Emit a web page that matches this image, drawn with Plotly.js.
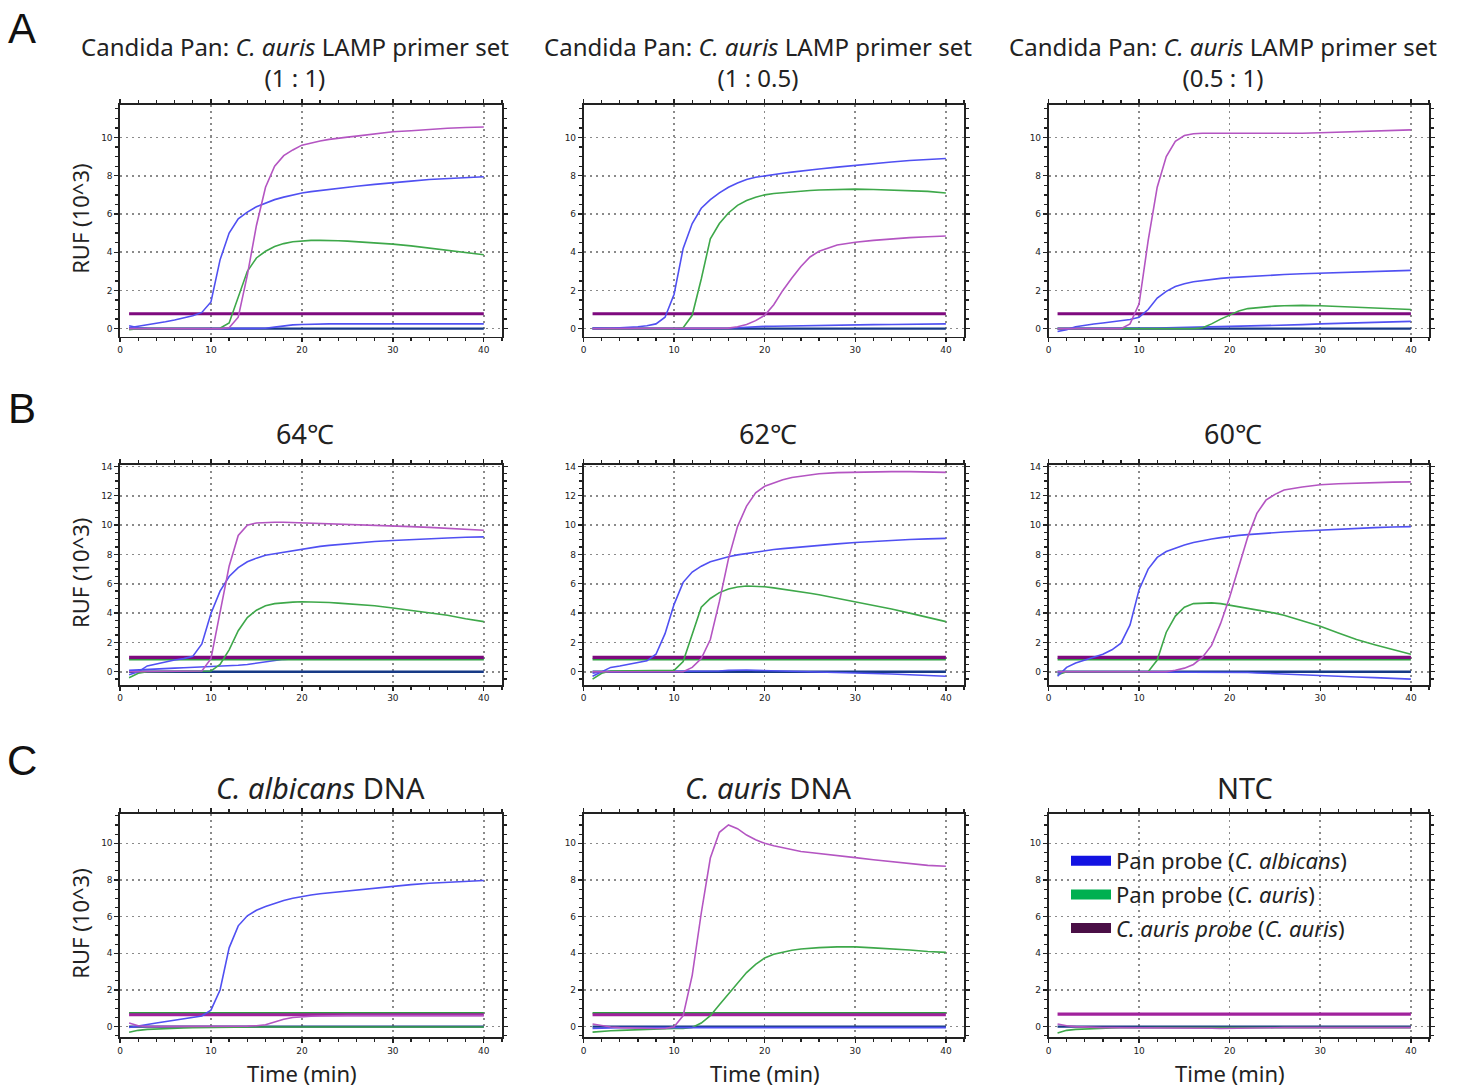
<!DOCTYPE html>
<html><head><meta charset="utf-8">
<script src="https://cdn.plot.ly/plotly-3.0.1.min.js"></script>
<style>html,body{margin:0;padding:0;background:#fff}#chart{width:1466px;height:1088px}</style>
</head><body><div id="chart"></div>
<script>
// ---- time axis (minutes) ----
const minutes = [1,2,3,4,5,6,7,8,9,10,11,12,13,14,15,16,17,18,19,20,21,22,23,24,25,26,28,30,32,34,36,38,40];
const timeTicks = [0,10,20,30,40];

// ---- Panel A: primer-set ratios ----
const a1Albicans = [0.05,0.12,0.2,0.28,0.36,0.45,0.55,0.68,0.85,1.4,3.6,5.0,5.75,6.1,6.38,6.58,6.75,6.88,7.0,7.1,7.17,7.23,7.3,7.35,7.4,7.45,7.55,7.65,7.72,7.8,7.85,7.9,7.95];
const a1PanAuris  = [-0.05,0,0,0,0,0,0,0,0,0,0.02,0.3,1.6,3.0,3.7,4.05,4.3,4.45,4.55,4.6,4.62,4.62,4.62,4.6,4.58,4.55,4.5,4.42,4.33,4.22,4.1,4.0,3.87];
const a1AurisProbe= [0,0,0,0,0,0,0,0,0,0,0,0.05,0.6,2.8,5.4,7.4,8.5,9.05,9.35,9.6,9.72,9.82,9.9,9.97,10.02,10.07,10.2,10.3,10.35,10.42,10.48,10.52,10.55];
const a1Negative  = [0.15,0.05,0.02,0,0,0,0,0,0,0,0,0,0,0,0,0.02,0.08,0.15,0.2,0.22,0.24,0.25,0.25,0.25,0.25,0.25,0.25,0.25,0.25,0.25,0.25,0.25,0.25];

const a2Albicans = [0,0,0.02,0.04,0.06,0.1,0.15,0.25,0.6,1.8,4.2,5.5,6.3,6.75,7.1,7.4,7.62,7.8,7.92,8.0,8.07,8.13,8.19,8.25,8.3,8.35,8.45,8.55,8.63,8.72,8.8,8.86,8.9];
const a2PanAuris  = [0,0,0,0,0,0,0,0,0,0,0.05,0.7,2.6,4.7,5.5,6.05,6.45,6.7,6.88,7.0,7.07,7.12,7.16,7.2,7.23,7.25,7.28,7.3,7.28,7.25,7.22,7.18,7.1];
const a2AurisProbe= [0,0,0,0,0,0,0,0,0,0,0,0,0,0,0,0.03,0.1,0.22,0.42,0.7,1.25,2.0,2.65,3.25,3.75,4.05,4.38,4.52,4.62,4.7,4.76,4.81,4.85];
const a2Negative  = [0.05,0.03,0.02,0,0,0,0,0,0,0,0,0,0,0,0,0.02,0.05,0.08,0.1,0.12,0.13,0.14,0.15,0.16,0.17,0.18,0.19,0.2,0.21,0.22,0.23,0.24,0.25];

const a3Albicans = [-0.15,-0.05,0.1,0.18,0.24,0.3,0.35,0.4,0.48,0.6,1.0,1.6,1.95,2.2,2.35,2.45,2.52,2.58,2.63,2.67,2.7,2.73,2.76,2.79,2.81,2.83,2.87,2.9,2.93,2.96,3.0,3.02,3.05];
const a3PanAuris  = [0,0,0,0,0,0,0,0,0,0,0,0,0,0,0,0,0.05,0.25,0.5,0.72,0.92,1.05,1.1,1.15,1.18,1.2,1.22,1.2,1.16,1.12,1.08,1.04,1.0];
const a3AurisProbe= [0,0,0,0,0,0,0,0,0.25,1.3,4.6,7.4,9.0,9.8,10.1,10.2,10.22,10.22,10.2,10.2,10.2,10.2,10.2,10.2,10.2,10.2,10.22,10.25,10.28,10.3,10.35,10.38,10.4];
const a3Negative  = [0,0,0,0,0,0,0,0,0,0,0.02,0.03,0.04,0.05,0.05,0.05,0.06,0.07,0.08,0.1,0.11,0.12,0.13,0.15,0.16,0.18,0.21,0.25,0.28,0.31,0.34,0.37,0.38];

// ---- Panel B: temperatures ----
const b1Albicans = [-0.2,0.0,0.4,0.55,0.65,0.8,0.9,1.05,1.9,3.98,5.5,6.5,7.1,7.5,7.75,7.95,8.05,8.15,8.28,8.4,8.47,8.55,8.62,8.68,8.73,8.78,8.88,8.95,9.02,9.08,9.12,9.17,9.2];
const b1PanAuris  = [-0.4,-0.1,0,0,0,0,0,0,0,0.05,0.5,1.5,2.8,3.7,4.2,4.5,4.65,4.72,4.75,4.78,4.77,4.75,4.72,4.68,4.64,4.6,4.5,4.35,4.2,4.02,3.85,3.62,3.42];
const b1AurisProbe= [0,0,0,0,0,0,0,0,0.05,0.9,4.0,7.2,9.3,10.0,10.15,10.2,10.2,10.2,10.18,10.15,10.14,10.12,10.11,10.1,10.08,10.05,10.0,9.95,9.9,9.85,9.8,9.72,9.65];
const b1Negative  = [0.1,0.12,0.15,0.18,0.2,0.25,0.28,0.3,0.32,0.35,0.38,0.4,0.45,0.5,0.6,0.7,0.78,0.85,0.88,0.9,0.9,0.9,0.9,0.9,0.9,0.9,0.9,0.9,0.9,0.9,0.9,0.9,0.9];

const b2Albicans = [-0.3,0.0,0.3,0.4,0.5,0.6,0.75,1.2,2.6,4.6,6.1,6.8,7.2,7.5,7.7,7.85,7.97,8.07,8.17,8.28,8.34,8.4,8.46,8.52,8.57,8.62,8.72,8.82,8.9,8.96,9.02,9.06,9.1];
const b2PanAuris  = [-0.5,-0.1,0.05,0.05,0.05,0.05,0.05,0.05,0.05,0.1,0.7,2.6,4.4,5.0,5.4,5.65,5.78,5.85,5.83,5.8,5.72,5.64,5.55,5.45,5.35,5.25,5.02,4.78,4.55,4.28,4.0,3.72,3.42];
const b2AurisProbe= [0,0,0,0,0,0,0,0,0,0,0,0.3,0.9,2.2,4.8,7.7,9.9,11.3,12.2,12.65,12.9,13.1,13.25,13.35,13.45,13.5,13.58,13.62,13.64,13.65,13.65,13.63,13.6];
const b2Negative  = [-0.1,0,0,0,0,0,0,0,0,0,0,0,0,0,0.05,0.1,0.12,0.12,0.1,0.08,0.06,0.05,0.03,0.02,0,-0.02,-0.05,-0.08,-0.12,-0.15,-0.2,-0.25,-0.3];

const b3Albicans = [-0.3,0.3,0.6,0.8,1.0,1.2,1.5,1.95,3.2,5.6,7.0,7.8,8.2,8.45,8.65,8.82,8.95,9.05,9.15,9.25,9.3,9.35,9.4,9.45,9.5,9.53,9.6,9.67,9.73,9.78,9.83,9.87,9.9];
const b3PanAuris  = [-0.2,0,0,0,0,0,0,0,0,0,0,0.8,2.7,3.8,4.4,4.65,4.7,4.7,4.65,4.55,4.45,4.35,4.22,4.1,4.0,3.85,3.5,3.1,2.65,2.2,1.85,1.55,1.2];
const b3AurisProbe= [0,0,0,0,0,0,0,0,0,0,0,0,0,0.1,0.25,0.5,1.0,1.8,3.3,5.1,7.2,9.2,10.8,11.7,12.1,12.4,12.6,12.75,12.82,12.87,12.9,12.93,12.95];
const b3Negative  = [-0.1,0,0,0,0,0,0,0,0,0,0,0,0,0,0,0,0,0,0,0,-0.02,-0.05,-0.08,-0.1,-0.13,-0.15,-0.2,-0.25,-0.3,-0.35,-0.4,-0.45,-0.5];

// ---- Panel C: templates ----
const c1Albicans = [-0.05,0.05,0.12,0.2,0.27,0.34,0.42,0.5,0.58,0.9,2.0,4.3,5.5,6.05,6.35,6.55,6.72,6.88,7.0,7.1,7.18,7.25,7.3,7.36,7.42,7.47,7.58,7.68,7.75,7.82,7.87,7.92,7.97];
const c1PanAuris  = [-0.3,-0.2,-0.15,-0.12,-0.1,-0.08,-0.07,-0.05,-0.04,-0.03,-0.02,-0.02,-0.02,-0.02,-0.02,-0.02,-0.02,-0.02,-0.02,-0.02,-0.02,-0.02,-0.02,-0.02,-0.02,-0.02,-0.02,-0.02,-0.02,-0.02,-0.02,-0.02,-0.02];
const c1AurisProbe= [0.2,0.05,0,0,0,0,0,0,0,0,0,0,0,0.03,0.05,0.1,0.25,0.4,0.5,0.55,0.57,0.58,0.6,0.6,0.6,0.6,0.6,0.6,0.6,0.6,0.6,0.6,0.6];

const c2Albicans = [-0.1,-0.07,-0.05,-0.05,-0.05,-0.05,-0.05,-0.05,-0.05,-0.05,-0.05,-0.05,-0.05,-0.05,-0.05,-0.05,-0.05,-0.05,-0.05,-0.05,-0.05,-0.05,-0.05,-0.05,-0.05,-0.05,-0.05,-0.05,-0.05,-0.05,-0.05,-0.05,-0.05];
const c2PanAuris  = [-0.3,-0.25,-0.22,-0.2,-0.18,-0.15,-0.13,-0.1,-0.1,-0.1,-0.1,-0.05,0.2,0.6,1.2,1.8,2.4,2.95,3.4,3.75,3.95,4.08,4.17,4.24,4.28,4.31,4.35,4.35,4.3,4.25,4.18,4.1,4.05];
const c2AurisProbe= [0.15,0.05,-0.02,-0.05,-0.07,-0.08,-0.09,-0.1,-0.1,0.0,0.6,2.8,6.2,9.2,10.6,11.0,10.8,10.45,10.2,10.0,9.87,9.75,9.65,9.55,9.5,9.45,9.35,9.22,9.1,9.0,8.9,8.8,8.75];

const c3PanAuris  = [-0.35,-0.2,-0.15,-0.12,-0.1,-0.08,-0.07,-0.06,-0.05,-0.05,-0.05,-0.05,-0.05,-0.05,-0.05,-0.05,-0.05,-0.05,-0.05,-0.05,-0.05,-0.05,-0.05,-0.05,-0.05,-0.05,-0.05,-0.05,-0.05,-0.05,-0.05,-0.05,-0.05];
const c3AurisProbe= [0.15,0.05,0,-0.03,-0.05,-0.05,-0.05,-0.05,-0.05,-0.05,-0.05,-0.05,-0.05,-0.06,-0.07,-0.08,-0.08,-0.09,-0.1,-0.1,-0.1,-0.09,-0.08,-0.07,-0.06,-0.05,-0.05,-0.05,-0.05,-0.05,-0.05,-0.05,-0.05];

// thresholds / baselines (RUF x10^3)
const aurisThreshold = [0.78,0.78,0.78, 0.98,0.98,0.98, 0.65,0.65,0.68];
const panThreshold   = [null,null,null, 0.85,0.85,0.85, 0.74,0.74,null];
const baselineLevel  = [0,0,0, 0,0,0, 0,0,0];

// titles
const panelTitles = [
  'Candida Pan: <i>C. auris</i> LAMP primer set<br>(1 : 1)',
  'Candida Pan: <i>C. auris</i> LAMP primer set<br>(1 : 0.5)',
  'Candida Pan: <i>C. auris</i> LAMP primer set<br>(0.5 : 1)',
  '64℃','62℃','60℃',
  '<i>C. albicans</i> DNA','<i>C. auris</i> DNA','NTC'
];
const legendNames = ['Pan probe (<i>C. albicans</i>)','Pan probe (<i>C. auris</i>)','<i>C. auris probe</i> (<i>C. auris</i>)'];

const panels = [
  {alb:a1Albicans, pan:a1PanAuris, aur:a1AurisProbe, neg:a1Negative},
  {alb:a2Albicans, pan:a2PanAuris, aur:a2AurisProbe, neg:a2Negative},
  {alb:a3Albicans, pan:a3PanAuris, aur:a3AurisProbe, neg:a3Negative},
  {alb:b1Albicans, pan:b1PanAuris, aur:b1AurisProbe, neg:b1Negative},
  {alb:b2Albicans, pan:b2PanAuris, aur:b2AurisProbe, neg:b2Negative},
  {alb:b3Albicans, pan:b3PanAuris, aur:b3AurisProbe, neg:b3Negative},
  {alb:c1Albicans, pan:c1PanAuris, aur:c1AurisProbe, neg:null},
  {alb:c2Albicans, pan:c2PanAuris, aur:c2AurisProbe, neg:null},
  {alb:null, pan:c3PanAuris, aur:c3AurisProbe, neg:null}
];

// ---- layout geometry (pixels) ----
const W = 1466, H = 1088;
const colPx = [[120,502],[583.5,964],[1048.5,1429]];
const rowPx = [[105,336.7],[465,685],[814,1037.3]];
const yRanges = [[-0.42,11.7],[-0.9,14.1],[-0.58,11.6]];
const px = v => v / W, py = v => 1 - v / H;

const COL = {
  blue:'#5050f2', green:'#3ea84a', magenta:'#b455c2',
  thrPurple:'#7e0a7e', thrMagenta:'#a0229c', thrGreen:'#2f9e40', base:'#173a86'
};

const FONT = 'Noto Sans, Noto Sans CJK KR, sans-serif';
const traces = [];
const layout = {
  width: W, height: H, margin:{l:0,r:0,t:0,b:0},
  paper_bgcolor:'#fff', plot_bgcolor:'#fff', showlegend:true,
  font:{family:FONT, color:'#222'},
  annotations:[],
  legend:{x:px(1066), xanchor:'left', y:py(840), yanchor:'top', bgcolor:'rgba(0,0,0,0)',
    font:{size:22, family:FONT, color:'#222'},
    tracegroupgap:2, itemwidth:40, traceorder:'grouped'}
};

const xEnd = [minutes[0], minutes[minutes.length-1]];

panels.forEach((p, i) => {
  const r = Math.floor(i/3), c = i % 3, k = i + 1;
  const xa = 'x' + (k===1?'':k), ya = 'y' + (k===1?'':k);
  const axBase = {
    showline:true, mirror:'ticks', linecolor:'#222', linewidth:1.6,
    ticks:'outside', ticklen:4, tickwidth:1.3, tickcolor:'#222',
    showgrid:true, gridcolor:'#8a8a8a', gridwidth:1.6, griddash:'2px,4px',
    zeroline:false, tickfont:{size:9, family:'DejaVu Sans', color:'#222'}, fixedrange:true
  };
  layout['xaxis' + (k===1?'':k)] = Object.assign({}, axBase, {
    domain:[px(colPx[c][0]), px(colPx[c][1])], anchor:ya, range:[0,42],
    tickvals:timeTicks, minor:{dtick:2, tick0:0, ticks:'outside', ticklen:3, tickcolor:'#222', showgrid:false}
  });
  layout['yaxis' + (k===1?'':k)] = Object.assign({}, axBase, {
    domain:[py(rowPx[r][1]), py(rowPx[r][0])], anchor:xa, range:yRanges[r],
    dtick:2, tick0:0, minor:{dtick:0.5, tick0:0, ticks:'outside', ticklen:3, tickcolor:'#222', showgrid:false}
  });
  const line = (y, color, width, x) => ({type:'scatter', mode:'lines', x: x || minutes, y, xaxis:xa, yaxis:ya,
      line:{color, width}, showlegend:false, hoverinfo:'skip'});
  traces.push(line([baselineLevel[i], baselineLevel[i]], COL.base, 2.4, xEnd));
  if (p.neg) traces.push(line(p.neg, COL.blue, 1.6));
  if (panThreshold[i] !== null) traces.push(line([panThreshold[i], panThreshold[i]], COL.thrGreen, 2.2, xEnd));
  traces.push(line([aurisThreshold[i], aurisThreshold[i]], r===2 ? COL.thrMagenta : COL.thrPurple, 3.2, xEnd));
  traces.push(line(p.pan, COL.green, 1.6));
  if (p.alb) traces.push(line(p.alb, COL.blue, 1.6));
  traces.push(line(p.aur, COL.magenta, 1.6));

  const cx = (colPx[c][0] + colPx[c][1]) / 2;
  if (r === 0) {
    layout.annotations.push({text:panelTitles[i], xref:'paper', yref:'paper', x:px(cx-16), y:py(62),
      xanchor:'center', yanchor:'middle', showarrow:false, font:{size:24, color:'#222'}});
  } else if (r === 1) {
    layout.annotations.push({text:panelTitles[i], xref:'paper', yref:'paper', x:px(cx-6), y:py(433),
      xanchor:'center', yanchor:'middle', showarrow:false, font:{size:27, color:'#222'}});
  } else {
    const off = [9, -5, 6][c];
    layout.annotations.push({text:panelTitles[i], xref:'paper', yref:'paper', x:px(cx+off), y:py(787),
      xanchor:'center', yanchor:'middle', showarrow:false, font:{size:29, color:'#222'}});
  }
  if (c === 0) {
    layout.annotations.push({text:'RUF (10^3)', xref:'paper', yref:'paper', x:px(80),
      y:py((rowPx[r][0]+rowPx[r][1])/2 - 2), textangle:-90, xanchor:'center', yanchor:'middle',
      showarrow:false, font:{size:22, color:'#222'}});
  }
  if (r === 2) {
    layout.annotations.push({text:'Time (min)', xref:'paper', yref:'paper', x:px(cx-9), y:py(1073),
      xanchor:'center', yanchor:'middle', showarrow:false, font:{size:22, color:'#222'}});
  }
});

[['A',28],['B',408],['C',760]].forEach(([t, y]) => layout.annotations.push({
  text:t, xref:'paper', yref:'paper', x:px(22), y:py(y), xanchor:'center', yanchor:'middle',
  showarrow:false, font:{size:42, family:'Liberation Sans, Arial, sans-serif', color:'#111'}}));

const legendColors = ['#1212e2','#00b050','#4a0f46'];
legendNames.forEach((n, j) => traces.push({type:'scatter', mode:'lines', x:[null], y:[null],
  xaxis:'x9', yaxis:'y9', name:n, legendgroup:'g'+j, showlegend:true,
  line:{color:legendColors[j], width:10}, hoverinfo:'skip'}));

Plotly.newPlot('chart', traces, layout, {displayModeBar:false, staticPlot:true});
</script>
</body></html>
